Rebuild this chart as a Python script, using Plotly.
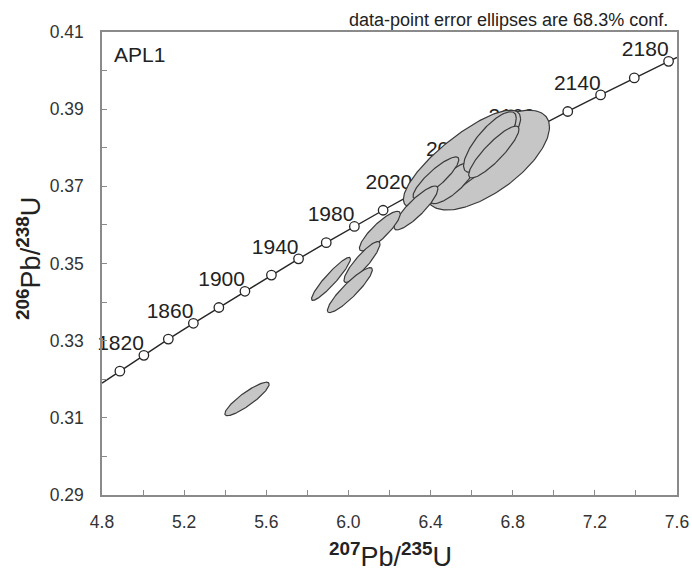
import numpy as np
import plotly.graph_objects as go

# Concordia age markers (Ma) and their ratio positions
ages = [1800, 1820, 1840, 1860, 1880, 1900, 1920, 1940, 1960, 1980,
        2000, 2020, 2040, 2060, 2080, 2100, 2120, 2140, 2160, 2180]
conc_x = [4.887, 5.004, 5.123, 5.245, 5.369, 5.496, 5.625, 5.757, 5.892, 6.029,
          6.169, 6.311, 6.457, 6.605, 6.756, 6.910, 7.068, 7.228, 7.392, 7.559]
conc_y = [0.3221, 0.3262, 0.3304, 0.3345, 0.3386, 0.3428, 0.3470, 0.3512, 0.3554, 0.3596,
          0.3638, 0.3680, 0.3723, 0.3765, 0.3808, 0.3851, 0.3894, 0.3937, 0.3981, 0.4024]
# concordia curve continues to the plot edges
curve_start = (4.8, 0.3190)
curve_end = (7.6, 0.4034)
label_every = 40

# Data-point error ellipses: centre, 1-sigma errors, correlation
ell_cx = [6.679, 6.553, 6.504, 6.426, 6.329, 6.153, 6.066, 6.007, 5.915, 6.689, 6.708, 5.506]
ell_cy = [0.3768, 0.3771, 0.3709, 0.3722, 0.3644, 0.3584, 0.3504, 0.3431, 0.3460, 0.3815, 0.3789, 0.3149]
ell_sx = [0.300, 0.2853, 0.1099, 0.1116, 0.1069, 0.0996, 0.0879, 0.1094, 0.0949, 0.1284, 0.1225, 0.1079]
ell_sy = [0.01293, 0.01264, 0.005386, 0.005425, 0.00569, 0.005145, 0.0053, 0.005825, 0.005573, 0.00785, 0.006724, 0.004334]
ell_rho = [0.662, 0.827, 0.786, 0.866, 0.867, 0.862, 0.885, 0.903, 0.928, 0.786, 0.876, 0.881]

FONT = "Liberation Sans, Arial, sans-serif"
LINE_DARK = "#262626"
AXIS_GRAY = "#8a8a8a"

fig = go.Figure()

# concordia line + markers
line_x = [curve_start[0]] + conc_x + [curve_end[0]]
line_y = [curve_start[1]] + conc_y + [curve_end[1]]
fig.add_trace(go.Scatter(x=line_x, y=line_y, mode="lines",
                         line=dict(color=LINE_DARK, width=1.4),
                         hoverinfo="skip", showlegend=False))
fig.add_trace(go.Scatter(x=conc_x, y=conc_y, mode="markers",
                         marker=dict(symbol="circle", size=9.5, color="white",
                                     line=dict(color=LINE_DARK, width=1.3)),
                         text=[str(a) for a in ages], hoverinfo="text",
                         showlegend=False))
# age labels (text trace so that ellipses can cover them)
lab_x = [x for a, x in zip(ages, conc_x) if (a - 1820) % label_every == 0]
lab_y = [y for a, y in zip(ages, conc_y) if (a - 1820) % label_every == 0]
lab_t = [str(a) for a in ages if (a - 1820) % label_every == 0]
fig.add_trace(go.Scatter(x=lab_x, y=lab_y, mode="text", text=lab_t,
                         textposition="top left", cliponaxis=False,
                         textfont=dict(family=FONT, size=21, color="#222222"),
                         hoverinfo="skip", showlegend=False))

# ellipses
t = np.linspace(0, 2 * np.pi, 181)
for cx, cy, sx, sy, r in zip(ell_cx, ell_cy, ell_sx, ell_sy, ell_rho):
    ex = cx + sx * np.cos(t)
    ey = cy + sy * (r * np.cos(t) + np.sqrt(1 - r * r) * np.sin(t))
    fig.add_trace(go.Scatter(x=ex, y=ey, mode="lines", fill="toself",
                             fillcolor="#c6c6c6",
                             line=dict(color="#3a3a3a", width=1.2),
                             hoverinfo="skip", showlegend=False))

axis_common = dict(
    showline=True, linecolor=AXIS_GRAY, linewidth=1.5, mirror=True,
    ticks="inside", ticklen=5, tickcolor=AXIS_GRAY, tickwidth=1,
    showgrid=False, zeroline=False, automargin=False,
    tickfont=dict(family=FONT, size=17.5, color="#333333"),
)

title_font = dict(family=FONT, size=27, color="#222222")

fig.update_layout(
    width=692, height=572,
    margin=dict(l=102, r=15, t=32, b=77),
    paper_bgcolor="white", plot_bgcolor="white",
    xaxis=dict(range=[4.8, 7.6], tick0=4.8, dtick=0.4, tickformat=".1f",
               minor=dict(dtick=0.2, ticks="inside", ticklen=5, tickcolor=AXIS_GRAY, showgrid=False),
               ticklabelstandoff=10, **axis_common),
    yaxis=dict(range=[0.29, 0.41], tick0=0.29, dtick=0.02, tickformat=".2f",
               minor=dict(dtick=0.01, ticks="inside", ticklen=5, tickcolor=AXIS_GRAY, showgrid=False),
               ticklabelstandoff=13, **axis_common),
    annotations=[
        dict(text="<b><sup>207</sup></b>Pb/<b><sup>235</sup></b>U",
             x=0.5009, y=-0.1296, xref="paper", yref="paper",
             xanchor="center", yanchor="middle", showarrow=False, font=title_font),
        dict(text="<b><sup>206</sup></b>Pb/<b><sup>238</sup></b>U",
             x=-0.127, y=0.512, xref="paper", yref="paper", textangle=-90,
             xanchor="center", yanchor="middle", showarrow=False, font=title_font),
        dict(text="APL1", x=0.017, y=0.952, xref="paper", yref="paper",
             xanchor="left", yanchor="middle", showarrow=False,
             font=dict(family=FONT, size=21, color="#222222")),
        dict(text="data-point error ellipses are 68.3% conf.", x=0.987, y=1.026,
             xref="paper", yref="paper", xanchor="right", yanchor="middle",
             showarrow=False, font=dict(family=FONT, size=18, color="#222222")),
    ],
)

fig.write_html("out.html")
